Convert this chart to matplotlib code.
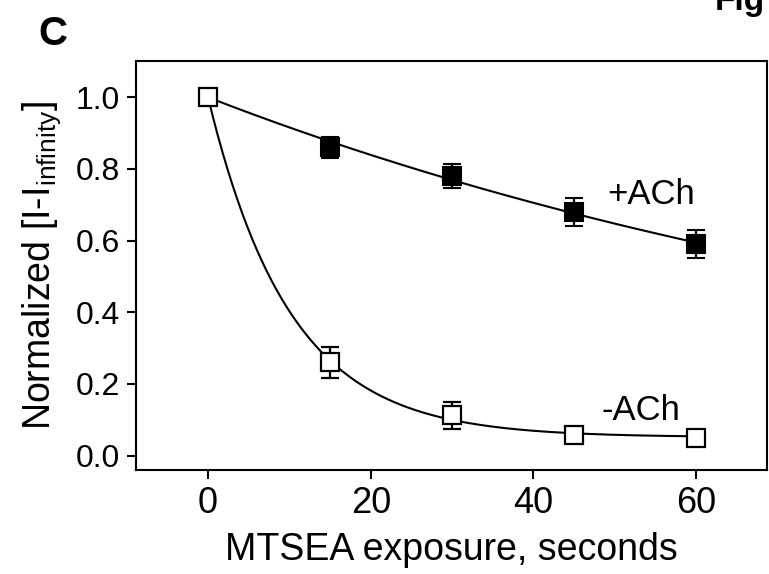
import numpy as np
import matplotlib.pyplot as plt

plt.rcParams['font.family'] = ['Liberation Sans', 'DejaVu Sans']
plt.rcParams['mathtext.fontset'] = 'custom'
plt.rcParams['mathtext.rm'] = 'Liberation Sans'
plt.rcParams['mathtext.it'] = 'Liberation Sans'

# data
time_s = [0, 15, 30, 45, 60]
plus_ach = [1.0, 0.86, 0.78, 0.68, 0.59]
plus_ach_err = [0.0, 0.03, 0.034, 0.038, 0.039]
minus_ach = [1.0, 0.26, 0.113, 0.058, 0.05]
minus_ach_err = [0.0, 0.043, 0.038, 0.022, 0.01]

x_ticks = [0, 20, 40, 60]
y_ticks = [0.0, 0.2, 0.4, 0.6, 0.8, 1.0]


# single exponential fit: y = c + (1-c)*exp(-t/tau), grid search on tau
def fit_exp(t, y):
    t = np.asarray(t, float)
    y = np.asarray(y, float)
    best = None
    for tau in np.linspace(1, 300, 3000):
        e = np.exp(-t / tau)
        c = np.sum((y - e) * (1 - e)) / np.sum((1 - e) ** 2)
        res = np.sum((c + (1 - c) * e - y) ** 2)
        if best is None or res < best[0]:
            best = (res, tau, c)
    return best[1], best[2]


fig = plt.figure(figsize=(7.69, 5.74), dpi=100)
ax = fig.add_axes([0.1769, 0.1812, 0.8205, 0.713])

t_fine = np.linspace(0, 60, 300)
for vals in (plus_ach, minus_ach):
    tau, c = fit_exp(time_s, vals)
    ax.plot(t_fine, c + (1 - c) * np.exp(-t_fine / tau), color='black', lw=1.5, zorder=2)

ax.errorbar(time_s[1:], plus_ach[1:], yerr=plus_ach_err[1:], fmt='s', ms=13,
            mfc='black', mec='black', mew=1.5, ecolor='black', elinewidth=1.6,
            capsize=6.5, capthick=1.6, zorder=3)
ax.errorbar(time_s, minus_ach, yerr=minus_ach_err, fmt='s', ms=13,
            mfc='white', mec='black', mew=1.6, ecolor='black', elinewidth=1.6,
            capsize=6.5, capthick=1.6, zorder=4)

ax.text(49.1, 0.703, '+ACh', fontsize=25, ha='left', va='baseline')
ax.text(48.4, 0.10, '-ACh', fontsize=25, ha='left', va='baseline')

ax.set_xlim(-8.85, 68.7)
ax.set_ylim(-0.04, 1.102)
ax.set_xticks(x_ticks)
ax.set_yticks(y_ticks)
ax.set_yticklabels(['%.1f' % v for v in y_ticks])
ax.tick_params(axis='both', direction='out', length=6.5, width=1.5)
ax.tick_params(axis='x', labelsize=26, pad=5)
ax.tick_params(axis='y', labelsize=23, pad=5)
for sp in ax.spines.values():
    sp.set_linewidth(1.5)

ax.set_xlabel('MTSEA exposure, seconds', fontsize=27, labelpad=8)
ax.set_ylabel(r'Normalized [I-I$_{\mathregular{infinity}}$]', fontsize=27, labelpad=9)

fig.text(0.05, 0.922, 'C', fontsize=29, fontweight='bold')
fig.text(0.93, 0.983, 'Fig', fontsize=24, fontweight='bold', va='baseline')

fig.savefig('out.png', dpi=100)
